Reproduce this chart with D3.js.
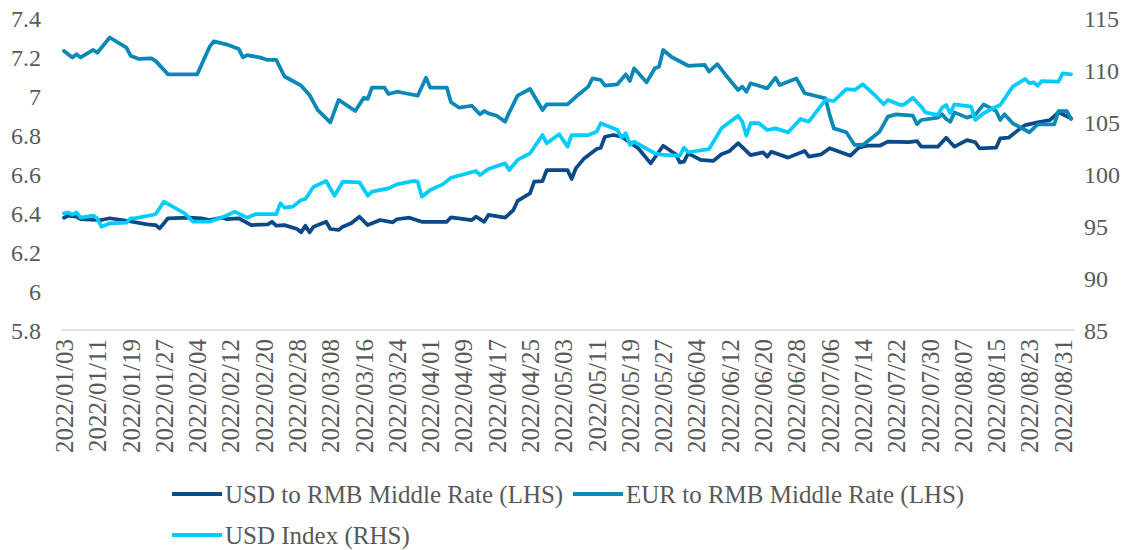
<!DOCTYPE html>
<html>
<head>
<meta charset="utf-8">
<script src="https://cdn.jsdelivr.net/npm/d3@7"></script>
<style>
  body { margin: 0; background: #fff; }
  svg text { font-family: "Liberation Serif", "Times New Roman", serif; fill: #595959; }
</style>
</head>
<body>
<svg id="chart" width="1140" height="550"></svg>
<script>
// USD to RMB middle rate (LHS)
const usdRmb = [
  ["01-03", 6.376], ["01-04", 6.386], ["01-06", 6.381], ["01-07", 6.369], ["01-12", 6.364],
  ["01-14", 6.373], ["01-17", 6.364], ["01-23", 6.342], ["01-25", 6.338], ["01-26", 6.321],
  ["01-28", 6.373], ["02-02", 6.376], ["02-05", 6.373], ["02-07", 6.364], ["02-10", 6.376],
  ["02-11", 6.369], ["02-14", 6.373], ["02-17", 6.338], ["02-21", 6.342], ["02-22", 6.355],
  ["02-23", 6.335], ["02-25", 6.338], ["02-28", 6.318], ["03-01", 6.301], ["03-02", 6.335],
  ["03-03", 6.301], ["03-04", 6.330], ["03-07", 6.355], ["03-08", 6.318], ["03-10", 6.313],
  ["03-11", 6.330], ["03-13", 6.347], ["03-15", 6.381], ["03-17", 6.338], ["03-20", 6.364],
  ["03-23", 6.352], ["03-24", 6.368], ["03-27", 6.376], ["03-30", 6.355], ["04-05", 6.355],
  ["04-06", 6.378], ["04-11", 6.364], ["04-12", 6.381], ["04-14", 6.355], ["04-15", 6.390],
  ["04-19", 6.376], ["04-21", 6.415], ["04-22", 6.462], ["04-25", 6.501], ["04-26", 6.561],
  ["04-28", 6.564], ["04-29", 6.620], ["05-04", 6.620], ["05-05", 6.574], ["05-06", 6.629],
  ["05-08", 6.680], ["05-11", 6.728], ["05-12", 6.735], ["05-13", 6.791], ["05-15", 6.800],
  ["05-17", 6.791], ["05-21", 6.732], ["05-23", 6.680], ["05-24", 6.655], ["05-27", 6.745],
  ["05-30", 6.701], ["05-31", 6.660], ["06-01", 6.663], ["06-02", 6.706], ["06-05", 6.672],
  ["06-08", 6.667], ["06-10", 6.701], ["06-12", 6.718], ["06-14", 6.758], ["06-17", 6.697],
  ["06-20", 6.711], ["06-21", 6.689], ["06-22", 6.714], ["06-26", 6.684], ["06-30", 6.718],
  ["07-01", 6.689], ["07-04", 6.701], ["07-06", 6.732], ["07-11", 6.694], ["07-13", 6.735],
  ["07-15", 6.745], ["07-18", 6.745], ["07-20", 6.766], ["07-25", 6.763], ["07-27", 6.769],
  ["07-28", 6.740], ["08-01", 6.740], ["08-03", 6.786], ["08-05", 6.740], ["08-08", 6.774],
  ["08-10", 6.763], ["08-11", 6.732], ["08-15", 6.735], ["08-16", 6.783], ["08-18", 6.786],
  ["08-20", 6.820], ["08-22", 6.851], ["08-25", 6.865], ["08-28", 6.877], ["08-30", 6.916],
  ["09-02", 6.886]
];

// EUR to RMB middle rate (LHS)
const eurRmb = [
  ["01-03", 7.231], ["01-05", 7.197], ["01-06", 7.214], ["01-07", 7.198], ["01-10", 7.236],
  ["01-11", 7.222], ["01-14", 7.300], ["01-18", 7.248], ["01-19", 7.207], ["01-21", 7.190],
  ["01-24", 7.193], ["01-25", 7.180], ["01-28", 7.111], ["02-04", 7.111], ["02-07", 7.253],
  ["02-08", 7.280], ["02-11", 7.265], ["02-14", 7.241], ["02-15", 7.198], ["02-16", 7.210],
  ["02-19", 7.198], ["02-21", 7.185], ["02-23", 7.185], ["02-25", 7.100], ["02-27", 7.077],
  ["03-01", 7.053], ["03-03", 7.005], ["03-05", 6.928], ["03-08", 6.865], ["03-10", 6.980],
  ["03-14", 6.923], ["03-16", 6.990], ["03-17", 6.985], ["03-18", 7.043], ["03-21", 7.043],
  ["03-22", 7.010], ["03-24", 7.022], ["03-26", 7.014], ["03-29", 7.002], ["03-31", 7.094],
  ["04-01", 7.043], ["04-05", 7.043], ["04-06", 6.968], ["04-08", 6.940], ["04-11", 6.950],
  ["04-13", 6.906], ["04-14", 6.923], ["04-15", 6.911], ["04-17", 6.899], ["04-19", 6.868],
  ["04-20", 6.916], ["04-22", 7.002], ["04-25", 7.036], ["04-28", 6.928], ["04-29", 6.957],
  ["05-04", 6.957], ["05-06", 6.996], ["05-09", 7.048], ["05-10", 7.090], ["05-12", 7.082],
  ["05-13", 7.053], ["05-16", 7.060], ["05-18", 7.111], ["05-19", 7.077], ["05-20", 7.142],
  ["05-23", 7.070], ["05-25", 7.142], ["05-26", 7.150], ["05-27", 7.236], ["05-29", 7.200],
  ["06-02", 7.155], ["06-06", 7.159], ["06-07", 7.125], ["06-09", 7.163], ["06-11", 7.108],
  ["06-14", 7.031], ["06-15", 7.048], ["06-16", 7.022], ["06-17", 7.065], ["06-21", 7.039],
  ["06-23", 7.094], ["06-24", 7.056], ["06-28", 7.090], ["06-30", 7.014], ["07-05", 6.988],
  ["07-06", 6.903], ["07-07", 6.834], ["07-10", 6.814], ["07-12", 6.749], ["07-14", 6.749],
  ["07-18", 6.817], ["07-20", 6.894], ["07-22", 6.906], ["07-26", 6.899], ["07-27", 6.855],
  ["07-28", 6.877], ["08-01", 6.889], ["08-02", 6.906], ["08-03", 6.882], ["08-04", 6.868],
  ["08-05", 6.916], ["08-08", 6.889], ["08-10", 6.903], ["08-12", 6.957], ["08-15", 6.923],
  ["08-16", 6.877], ["08-17", 6.906], ["08-19", 6.860], ["08-23", 6.814], ["08-25", 6.855],
  ["08-29", 6.855], ["08-30", 6.923], ["09-01", 6.923], ["09-02", 6.882]
];

// USD index (RHS)
const usdIndex = [
  ["01-03", 96.22], ["01-04", 96.30], ["01-05", 96.10], ["01-06", 96.30], ["01-07", 95.80],
  ["01-10", 95.99], ["01-11", 95.74], ["01-12", 94.93], ["01-14", 95.26], ["01-18", 95.32],
  ["01-19", 95.74], ["01-20", 95.74], ["01-25", 96.13], ["01-27", 97.34], ["02-01", 96.22],
  ["02-03", 95.41], ["02-07", 95.41], ["02-11", 95.99], ["02-13", 96.38], ["02-16", 95.80],
  ["02-18", 96.13], ["02-23", 96.13], ["02-24", 97.18], ["02-25", 96.76], ["02-27", 96.86],
  ["03-01", 97.50], ["03-02", 97.60], ["03-04", 98.78], ["03-07", 99.33], ["03-09", 97.91],
  ["03-11", 99.26], ["03-15", 99.20], ["03-17", 97.91], ["03-18", 98.30], ["03-22", 98.62],
  ["03-24", 99.00], ["03-28", 99.33], ["03-29", 99.26], ["03-30", 97.82], ["04-01", 98.46],
  ["04-04", 99.00], ["04-06", 99.64], ["04-10", 100.07], ["04-12", 100.29], ["04-13", 99.90],
  ["04-15", 100.48], ["04-19", 101.03], ["04-20", 100.38], ["04-22", 101.35], ["04-25", 101.99],
  ["04-28", 103.75], ["04-29", 102.95], ["05-02", 103.82], ["05-04", 102.63], ["05-05", 103.75],
  ["05-09", 103.75], ["05-11", 104.07], ["05-12", 104.88], ["05-16", 104.23], ["05-17", 103.49],
  ["05-18", 103.91], ["05-19", 102.79], ["05-20", 103.10], ["05-25", 101.99], ["05-27", 101.83],
  ["05-31", 101.76], ["06-01", 102.53], ["06-02", 102.09], ["06-07", 102.40], ["06-10", 104.39],
  ["06-14", 105.60], ["06-15", 105.03], ["06-16", 103.68], ["06-17", 104.88], ["06-19", 104.88],
  ["06-21", 104.23], ["06-23", 104.39], ["06-26", 104.00], ["06-29", 105.29], ["07-01", 105.03],
  ["07-05", 107.12], ["07-07", 107.02], ["07-10", 108.17], ["07-12", 108.08], ["07-14", 108.62],
  ["07-17", 107.53], ["07-19", 106.70], ["07-20", 107.12], ["07-23", 106.63], ["07-24", 106.70],
  ["07-26", 107.34], ["07-28", 106.47], ["07-29", 105.93], ["08-01", 105.67], ["08-02", 106.38],
  ["08-03", 106.63], ["08-04", 105.84], ["08-05", 106.70], ["08-09", 106.47], ["08-10", 105.19],
  ["08-12", 105.84], ["08-15", 106.47], ["08-16", 106.63], ["08-19", 108.40], ["08-22", 109.14],
  ["08-23", 108.72], ["08-24", 108.82], ["08-25", 108.49], ["08-26", 108.94], ["08-30", 108.88],
  ["08-31", 109.68], ["09-02", 109.59]
];

const dateLabels = [
  "2022/01/03", "2022/01/11", "2022/01/19", "2022/01/27", "2022/02/04", "2022/02/12",
  "2022/02/20", "2022/02/28", "2022/03/08", "2022/03/16", "2022/03/24", "2022/04/01",
  "2022/04/09", "2022/04/17", "2022/04/25", "2022/05/03", "2022/05/11", "2022/05/19",
  "2022/05/27", "2022/06/04", "2022/06/12", "2022/06/20", "2022/06/28", "2022/07/06",
  "2022/07/14", "2022/07/22", "2022/07/30", "2022/08/07", "2022/08/15", "2022/08/23",
  "2022/08/31"
];
const leftTicks = [5.8, 6, 6.2, 6.4, 6.6, 6.8, 7, 7.2, 7.4];
const rightTicks = [85, 90, 95, 100, 105, 110, 115];

const seriesNames = ["USD to RMB Middle Rate (LHS)", "EUR to RMB Middle Rate (LHS)", "USD Index (RHS)"];
const colors = ["#0b4a86", "#0a88b8", "#00ccff"];

const parseDay = d3.timeParse("%Y-%m-%d");
const parseLabel = d3.timeParse("%Y/%m/%d");
const toPoints = arr => arr.map(([d, v]) => ({ date: parseDay("2022-" + d), value: v }));

const svg = d3.select("#chart");
const plotTop = 18, plotBottom = 330;

const x = d3.scaleTime()
    .domain([parseDay("2022-01-03"), parseDay("2022-09-02")])
    .range([64, 1071]);
const yL = d3.scaleLinear().domain([5.8, 7.4]).range([plotBottom, plotTop]);
const yR = d3.scaleLinear().domain([85, 115]).range([plotBottom, plotTop]);

// category axis line
svg.append("line")
    .attr("x1", 62).attr("x2", 1074)
    .attr("y1", plotBottom).attr("y2", plotBottom)
    .attr("stroke", "#d9d9d9")
    .attr("stroke-width", 1.5);

// left axis
const left = svg.append("g")
    .attr("transform", "translate(41,0)")
    .call(d3.axisLeft(yL).tickValues(leftTicks).tickSize(0).tickPadding(0).tickFormat(d3.format("")));
left.select(".domain").remove();
left.selectAll("text").style("font-size", "24px").attr("dy", "0.34em");

// right axis
const right = svg.append("g")
    .attr("transform", "translate(1084,0)")
    .call(d3.axisRight(yR).tickValues(rightTicks).tickSize(0).tickPadding(0));
right.select(".domain").remove();
right.selectAll("text").style("font-size", "24px").attr("dy", "0.34em");

// date axis
const bottom = svg.append("g")
    .attr("transform", `translate(0,${plotBottom})`)
    .call(d3.axisBottom(x).tickValues(dateLabels.map(parseLabel)).tickSize(0).tickFormat(d3.timeFormat("%Y/%m/%d")));
bottom.select(".domain").remove();
bottom.selectAll("text")
    .style("font-size", "25px")
    .attr("text-anchor", "end")
    .attr("transform", "rotate(-90)")
    .attr("x", -9)
    .attr("y", 0)
    .attr("dy", "0.34em");

// lines
const lineL = d3.line().x(d => x(d.date)).y(d => yL(d.value));
const lineR = d3.line().x(d => x(d.date)).y(d => yR(d.value));

[[usdRmb, lineL], [eurRmb, lineL], [usdIndex, lineR]].forEach(([data, gen], i) => {
  svg.append("path")
      .datum(toPoints(data))
      .attr("fill", "none")
      .attr("stroke", colors[i])
      .attr("stroke-width", 3.75)
      .attr("stroke-linejoin", "round")
      .attr("stroke-linecap", "round")
      .attr("d", gen);
});

// legend
const legendItems = [
  { x: 172, y: 494 },
  { x: 573, y: 494 },
  { x: 172, y: 535 }
];
const legend = svg.append("g");
legendItems.forEach((p, i) => {
  legend.append("line")
      .attr("x1", p.x).attr("x2", p.x + 50)
      .attr("y1", p.y).attr("y2", p.y)
      .attr("stroke", colors[i])
      .attr("stroke-width", 4);
  legend.append("text")
      .attr("x", p.x + 53)
      .attr("y", p.y)
      .attr("dy", "0.34em")
      .style("font-size", "25px")
      .text(seriesNames[i]);
});
</script>
</body>
</html>
